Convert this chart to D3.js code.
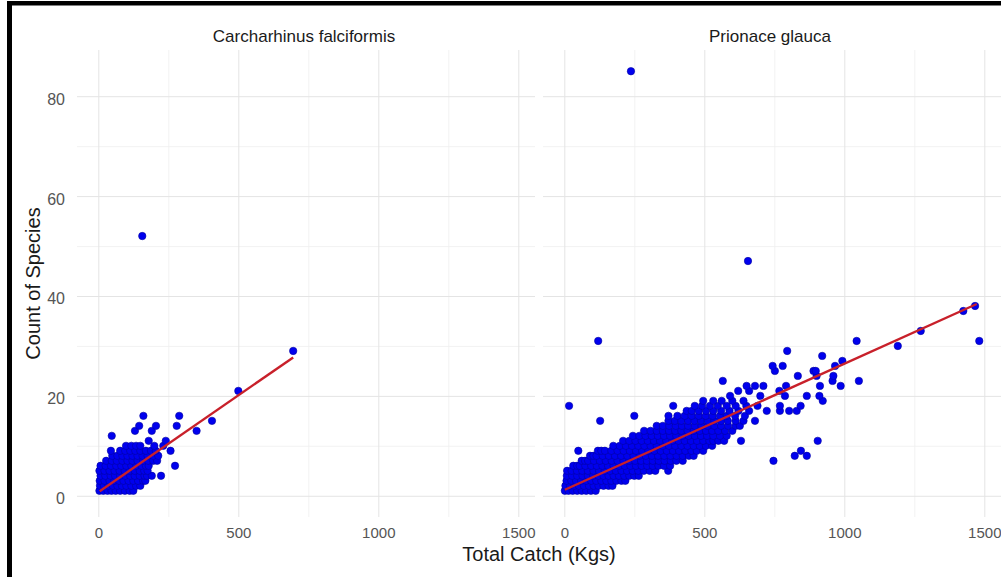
<!DOCTYPE html>
<html>
<head>
<meta charset="utf-8">
<script src="https://cdn.jsdelivr.net/npm/d3@7"></script>
<style>
  html, body { margin: 0; padding: 0; background: #fff; }
  svg { display: block; font-family: "Liberation Sans", Arial, sans-serif; }
</style>
</head>
<body>
<div id="chart"></div>
<script>
// facet titles and axis ticks
const panelTitles = ["Carcharhinus falciformis", "Prionace glauca"];
const xMajorTicks = [0, 500, 1000, 1500];
const xMinorTicks = [250, 750, 1250];
const yMajorTicks = [0, 20, 40, 60, 80];
const yMinorTicks = [10, 30, 50, 70];

// points: [count, [total catch, ...]]
const falciformisRows = [
    [1, [4, 18, 33, 47, 62, 78, 95, 112, 125]],
    [2, [6, 20, 36, 52, 68, 84, 100, 118, 135, 150]],
    [3, [5, 22, 40, 57, 74, 90, 108, 125, 142, 160, 168]],
    [4, [8, 25, 44, 60, 78, 96, 114, 130, 148, 165, 174, 191, 224]],
    [5, [4, 22, 40, 58, 76, 94, 112, 130, 148, 164, 176]],
    [6, [8, 26, 45, 64, 82, 100, 118, 136, 154, 170, 180, 274]],
    [7, [28, 48, 66, 86, 104, 122, 140, 160, 178, 196, 210]],
    [8, [50, 68, 86, 104, 122, 140, 158, 176, 196, 214]],
    [9, [45, 78, 96, 114, 132, 150, 170, 188, 205, 258]],
    [10, [99, 118, 135, 150, 200, 232]],
    [11, [180, 241]],
    [12, [48]],
    [13, [131, 191, 351]],
    [14, [146, 206, 280]],
    [15, [406]],
    [16, [161, 289]],
    [21, [500]],
    [29, [696]],
    [52, [157]]
];

const glaucaRows = [
    [1, [2, 15, 30, 46, 62, 78, 95, 112]],
    [2, [4, 20, 36, 52, 70, 88, 105, 122, 140, 158, 172]],
    [3, [8, 25, 42, 60, 78, 96, 114, 132, 150, 168, 186, 204, 218]],
    [4, [9, 28, 46, 65, 84, 103, 122, 140, 158, 176, 195, 214, 232, 250, 266]],
    [5, [10, 26, 45, 64, 84, 104, 124, 144, 164, 184, 204, 224, 244, 264, 284, 305, 325, 371]],
    [6, [32, 46, 55, 75, 96, 116, 136, 156, 176, 196, 216, 236, 256, 276, 296, 316, 336, 356, 378]],
    [7, [62, 74, 85, 106, 127, 148, 169, 190, 211, 232, 253, 274, 295, 316, 337, 358, 380, 400, 423, 747]],
    [8, [92, 104, 115, 137, 159, 181, 203, 225, 247, 269, 291, 313, 335, 357, 379, 401, 423, 445, 462, 823, 866]],
    [9, [50, 120, 132, 145, 168, 190, 212, 234, 256, 278, 300, 322, 344, 366, 388, 410, 432, 454, 473, 496, 845]],
    [10, [175, 198, 220, 242, 264, 286, 308, 330, 352, 374, 396, 418, 440, 462, 484, 506, 528]],
    [11, [210, 232, 254, 276, 298, 320, 342, 364, 386, 408, 430, 452, 474, 496, 518, 532, 550, 571, 631, 905]],
    [12, [245, 268, 290, 312, 334, 356, 378, 400, 422, 444, 466, 488, 510, 532, 556, 580]],
    [13, [285, 308, 330, 352, 374, 396, 418, 440, 462, 484, 506, 528, 550, 574, 600]],
    [14, [330, 352, 375, 398, 420, 442, 466, 490, 512, 536, 560, 585, 612, 627]],
    [15, [128, 372, 395, 418, 442, 465, 488, 512, 536, 560, 584, 612, 640, 681]],
    [16, [250, 372, 404, 430, 455, 480, 505, 530, 556, 580, 610, 645]],
    [17, [437, 455, 480, 506, 532, 560, 590, 622, 660, 723, 770, 803, 830]],
    [18, [17, 389, 466, 492, 520, 548, 580, 612, 650, 690, 770, 844]],
    [19, [496, 532, 562, 600, 640, 923]],
    [20, [592, 700, 788, 866, 911]],
    [21, [621, 660, 768]],
    [22, [651, 681, 711, 792, 913, 987]],
    [23, [566, 958, 1052]],
    [24, [834, 901, 961]],
    [25, [752, 890, 898]],
    [26, [744, 780, 967]],
    [27, [993]],
    [28, [921]],
    [29, [796]],
    [30, [1191]],
    [31, [121, 1044, 1482]],
    [33, [1273]],
    [37, [1425]],
    [38, [1467]],
    [47, [656]],
    [85, [238]]
];

// fitted line end points [total catch, count]
const falciformisFit = [[5, 0.9], [696, 27.7]];
const glaucaFit = [[2, 1.2], [1473, 38.4]];

const width = 1001;
const height = 577;
const panelTop = 50;
const panelBottom = 517;
const panelWidth = 458;
const panelLefts = [77, 543];

function flattenRows(rows) {
    const pts = [];
    rows.forEach(([count, catches]) => {
        catches.forEach(c => pts.push({ x: c, y: count }));
    });
    return pts;
}

const panels = [
    { title: panelTitles[0], points: flattenRows(falciformisRows), fit: falciformisFit },
    { title: panelTitles[1], points: flattenRows(glaucaRows), fit: glaucaFit }
];

const svg = d3.select('#chart')
    .append('svg')
    .attr('width', width)
    .attr('height', height);

svg.append('rect')
    .attr('width', width)
    .attr('height', height)
    .attr('fill', '#fff');

const y = d3.scaleLinear()
    .domain([-4.25, 89.25])
    .range([panelBottom, panelTop]);

panels.forEach((panel, i) => {
    const left = panelLefts[i];
    const x = d3.scaleLinear()
        .domain([-76.1, 1559.6])
        .range([left, left + panelWidth]);

    const g = svg.append('g');

    // minor then major grid lines
    const grid = (xVals, yVals, strokeW, color) => {
        g.append('g')
            .attr('transform', `translate(0,${panelBottom})`)
            .call(d3.axisBottom(x).tickValues(xVals).tickSize(-(panelBottom - panelTop)).tickFormat(''))
            .call(a => a.select('.domain').remove())
            .call(a => a.selectAll('line').attr('stroke', color).attr('stroke-width', strokeW));
        g.append('g')
            .attr('transform', `translate(${left},0)`)
            .call(d3.axisLeft(y).tickValues(yVals).tickSize(-panelWidth).tickFormat(''))
            .call(a => a.select('.domain').remove())
            .call(a => a.selectAll('line').attr('stroke', color).attr('stroke-width', strokeW));
    };
    grid(xMinorTicks, yMinorTicks, 0.8, '#efefef');
    grid(xMajorTicks, yMajorTicks, 1, '#e4e4e4');

    // x tick labels
    g.append('g')
        .attr('transform', `translate(0,${panelBottom})`)
        .call(d3.axisBottom(x).tickValues(xMajorTicks).tickSize(0).tickPadding(10).tickFormat(d3.format('d')))
        .call(a => a.select('.domain').remove())
        .call(a => a.selectAll('text')
            .attr('fill', '#555')
            .attr('font-size', '15px')
            .attr('font-family', '"Liberation Sans", Arial, sans-serif'));

    // y tick labels only on first panel
    if (i === 0) {
        g.append('g')
            .attr('transform', `translate(${left},0)`)
            .call(d3.axisLeft(y).tickValues(yMajorTicks).tickSize(0).tickPadding(12))
            .call(a => a.select('.domain').remove())
            .call(a => a.selectAll('text')
                .attr('dy', '0.5em')
                .attr('fill', '#555')
                .attr('font-size', '16px')
                .attr('font-family', '"Liberation Sans", Arial, sans-serif'));
    }

    // strip title
    g.append('text')
        .attr('x', left + panelWidth / 2 - 2)
        .attr('y', 42)
        .attr('text-anchor', 'middle')
        .attr('font-size', '17px')
        .attr('fill', '#1a1a1a')
        .text(panel.title);

    // points
    g.append('g')
        .selectAll('circle')
        .data(panel.points)
        .join('circle')
        .attr('cx', d => x(d.x))
        .attr('cy', d => y(d.y))
        .attr('r', 3.7)
        .attr('fill', '#0000ee')
        .attr('stroke', '#0000a0')
        .attr('stroke-width', 0.6);

    // fitted line
    const line = d3.line()
        .x(d => x(d[0]))
        .y(d => y(d[1]));

    g.append('path')
        .datum(panel.fit)
        .attr('d', line)
        .attr('fill', 'none')
        .attr('stroke', '#c8202a')
        .attr('stroke-width', 2.4);
});

// axis titles
svg.append('text')
    .attr('x', (panelLefts[0] + panelLefts[1] + panelWidth) / 2)
    .attr('y', 561)
    .attr('text-anchor', 'middle')
    .attr('font-size', '20px')
    .attr('fill', '#1a1a1a')
    .text('Total Catch (Kgs)');

svg.append('text')
    .attr('transform', `translate(40,${(panelTop + panelBottom) / 2}) rotate(-90)`)
    .attr('text-anchor', 'middle')
    .attr('font-size', '20px')
    .attr('fill', '#1a1a1a')
    .text('Count of Species');

// black frame on top and left edges
svg.append('rect')
    .attr('x', 7).attr('y', 1)
    .attr('width', width - 7).attr('height', 4.5)
    .attr('fill', '#000');
svg.append('rect')
    .attr('x', 7).attr('y', 1)
    .attr('width', 5).attr('height', height - 1)
    .attr('fill', '#000');
</script>
</body>
</html>
